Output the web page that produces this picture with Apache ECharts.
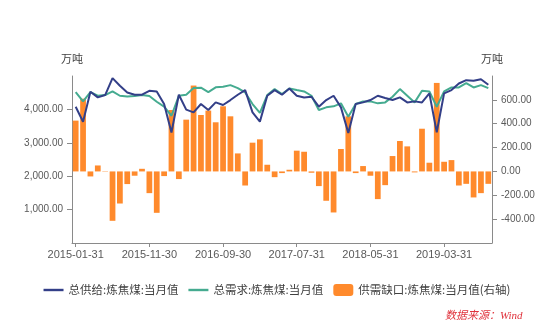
<!DOCTYPE html>
<html>
<head>
<meta charset="utf-8">
<script src="https://cdn.jsdelivr.net/npm/echarts@6/dist/echarts.min.js"></script>
<style>
  html, body { margin: 0; padding: 0; background: #ffffff; }
  #chart { width: 554px; height: 324px; }
</style>
</head>
<body>
<div id="chart"></div>
<script>
// Month-end dates, 2015-01 to 2019-09
const months = [
  '2015-01-31','2015-02-28','2015-03-31','2015-04-30','2015-05-31','2015-06-30',
  '2015-07-31','2015-08-31','2015-09-30','2015-10-31','2015-11-30','2015-12-31',
  '2016-01-31','2016-02-29','2016-03-31','2016-04-30','2016-05-31','2016-06-30',
  '2016-07-31','2016-08-31','2016-09-30','2016-10-31','2016-11-30','2016-12-31',
  '2017-01-31','2017-02-28','2017-03-31','2017-04-30','2017-05-31','2017-06-30',
  '2017-07-31','2017-08-31','2017-09-30','2017-10-31','2017-11-30','2017-12-31',
  '2018-01-31','2018-02-28','2018-03-31','2018-04-30','2018-05-31','2018-06-30',
  '2018-07-31','2018-08-31','2018-09-30','2018-10-31','2018-11-30','2018-12-31',
  '2019-01-31','2019-02-28','2019-03-31','2019-04-30','2019-05-31','2019-06-30',
  '2019-07-31','2019-08-31','2019-09-30'
];

// 总供给:炼焦煤:当月值 (万吨)
const supply = [
  4081, 3630, 4528, 4359, 4429, 4935, 4707, 4508, 4439, 4439, 4558, 4538,
  4161, 3307, 4439, 3992, 3912, 4161, 3982, 4210, 4131, 4280, 4439, 4578,
  3912, 3634, 4409, 4578, 4439, 4627, 4409, 4359, 4379, 4081, 4280, 4409,
  4061, 3297, 4161, 4210, 4280, 4409, 4340, 4280, 4359, 4210, 4240, 4210,
  4478, 3317, 4478, 4578, 4776, 4876, 4856, 4905, 4737
];

// 总需求:炼焦煤:当月值 (万吨)
const demand = [
  4520, 4240, 4520, 4409, 4429, 4540, 4409, 4389, 4399, 4429, 4399, 4230,
  4081, 3810, 4409, 4439, 4640, 4650, 4520, 4660, 4677, 4727, 4637, 4508,
  4161, 3893, 4429, 4608, 4459, 4627, 4578, 4538, 4409, 3982, 4061, 4091,
  4181, 3783, 4161, 4240, 4240, 4181, 4210, 4379, 4608, 4409, 4210, 4558,
  4538, 4081, 4538, 4657, 4657, 4786, 4657, 4727, 4637
];

// 供需缺口:炼焦煤:当月值 (万吨, 右轴)
const gap = [
  426, 610, -42, 50, 3, -414, -269, -106, -36, 22, -182, -347,
  -39, 515, -64, 434, 720, 473, 510, 412, 546, 462, 151, -118,
  241, 269, 56, -48, -14, 14, 174, 165, -11, -123, -246, -344,
  188, 462, -14, 45, -36, -232, -115, 129, 255, 210, -8, 358,
  73, 742, 81, 95, -118, -104, -218, -182, -104
];

const seriesNames = ['总供给:炼焦煤:当月值', '总需求:炼焦煤:当月值', '供需缺口:炼焦煤:当月值(右轴)'];
const unitName = '万吨';
const sourceText = '数据来源：Wind';

const colors = { supply: '#333f88', demand: '#45ab90', gap: '#ff8a2c' };
const axisColor = '#8a8a8a';
const labelColor = '#595959';

// plain horizontal stroke used as the legend mark of the line series
const lineIcon = 'path://M0,0 L20,0 L20,2.4 L0,2.4 Z';

function fmt(v) {
  const neg = v < 0;
  const parts = Math.abs(v).toFixed(2).split('.');
  parts[0] = parts[0].replace(/\B(?=(\d{3})+(?!\d))/g, ',');
  return (neg ? '-' : '') + parts.join('.');
}

const chart = echarts.init(document.getElementById('chart'), null, { renderer: 'canvas' });

const yAxisCommon = {
  type: 'value',
  nameLocation: 'end',
  nameGap: 12,
  nameTextStyle: { color: '#404040', fontSize: 11, fontFamily: 'Noto Sans CJK SC' },
  splitLine: { show: false },
  axisLine: { show: true, lineStyle: { color: axisColor, width: 1 } },
  axisTick: { show: true, length: 5, lineStyle: { color: axisColor } },
  axisLabel: {
    color: labelColor, fontSize: 10, margin: 9,
    fontFamily: 'Liberation Sans, Arial, sans-serif',
    showMinLabel: false, showMaxLabel: false,
    formatter: fmt
  }
};

chart.setOption({
  animation: false,
  backgroundColor: '#ffffff',
  grid: { left: 72, right: 62, top: 76, bottom: 81, containLabel: false },
  legend: {
    data: [
      { name: seriesNames[0], icon: lineIcon },
      { name: seriesNames[1], icon: lineIcon },
      { name: seriesNames[2], icon: 'roundRect' }
    ],
    left: 'center',
    top: 279,
    itemWidth: 20,
    itemHeight: 12,
    itemGap: 10,
    symbolKeepAspect: true,
    textStyle: { color: '#404040', fontSize: 11.5, fontFamily: 'Noto Sans CJK SC' }
  },
  xAxis: {
    type: 'category',
    data: months,
    boundaryGap: true,
    axisLine: { show: true, lineStyle: { color: axisColor, width: 1 } },
    axisTick: { show: true, interval: 9, alignWithLabel: true, length: 4, lineStyle: { color: axisColor } },
    axisLabel: {
      interval: 9, color: labelColor, fontSize: 11, margin: 6,
      fontFamily: 'Liberation Sans, Arial, sans-serif'
    },
    splitLine: { show: false }
  },
  yAxis: [
    Object.assign({}, yAxisCommon, { name: unitName, position: 'left', min: 0, max: 5000, interval: 1000 }),
    Object.assign({}, yAxisCommon, { name: unitName, position: 'right', min: -600, max: 800, interval: 200 })
  ],
  series: [
    {
      name: seriesNames[0], type: 'line', yAxisIndex: 0, data: supply,
      symbol: 'none', z: 4,
      lineStyle: { color: colors.supply, width: 2 },
      itemStyle: { color: colors.supply }
    },
    {
      name: seriesNames[1], type: 'line', yAxisIndex: 0, data: demand,
      symbol: 'none', z: 3,
      lineStyle: { color: colors.demand, width: 2 },
      itemStyle: { color: colors.demand }
    },
    {
      name: seriesNames[2], type: 'bar', yAxisIndex: 1, data: gap,
      barCategoryGap: '22%', z: 2,
      itemStyle: { color: colors.gap }
    }
  ],
  graphic: [
    {
      type: 'text',
      left: 445, top: 311,
      style: {
        text: sourceText,
        fill: '#e0323c',
        font: 'italic 11px "Liberation Serif", "Noto Sans CJK SC", serif'
      }
    }
  ]
});
</script>
</body>
</html>
